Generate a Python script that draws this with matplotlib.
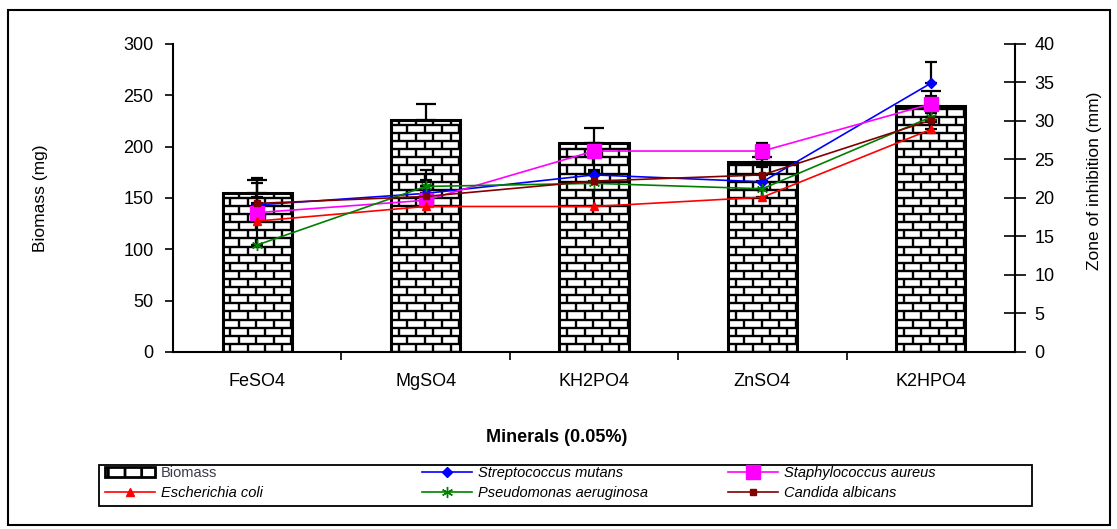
import matplotlib
matplotlib.use('Agg')
import matplotlib.pyplot as plt
import numpy as np
from matplotlib.collections import LineCollection
from matplotlib.patches import Rectangle, Patch
from matplotlib.lines import Line2D

plt.rcParams['font.family'] = ['Liberation Sans', 'DejaVu Sans']
plt.rcParams['hatch.linewidth'] = 2.0

# ---------------- data ----------------
minerals = ['FeSO4', 'MgSO4', 'KH2PO4', 'ZnSO4', 'K2HPO4']
biomass = [155, 226, 204, 185, 240]
biomass_err = [13, 16, 14, 5, 14]

s_mutans = [19.1, 20.6, 23.0, 22.1, 34.9]
s_mutans_err = [2.8, 1.0, 2.3, 3.0, 2.8]
s_aureus = [18.1, 19.7, 26.1, 26.1, 32.2]
s_aureus_err = [2.0, 1.0, 1.0, 1.0, 1.0]
e_coli = [17.0, 18.9, 18.9, 20.1, 28.9]
e_coli_err = [2.0, 1.0, 2.1, 1.0, 1.0]
p_aeruginosa = [13.9, 21.5, 21.9, 21.2, 30.5]
p_aeruginosa_err = [4.5, 2.1, 1.5, 1.0, 1.0]
c_albicans = [19.3, 20.2, 22.2, 23.0, 30.1]
c_albicans_err = [3.3, 2.1, 1.5, 1.0, 1.0]

series_names = ['Streptococcus mutans', 'Staphylococcus aureus', 'Escherichia coli',
                'Pseudomonas aeruginosa', 'Candida albicans']
series_vals = [s_mutans, s_aureus, e_coli, p_aeruginosa, c_albicans]
series_errs = [s_mutans_err, s_aureus_err, e_coli_err, p_aeruginosa_err, c_albicans_err]
series_colors = ['#0000FF', '#FF00FF', '#FF0000', '#008000', '#800000']
series_markers = ['D', 's', '^', (6, 2, 0), 's']
series_msizes = [5, 10, 6, 8, 4]

# ---------------- figure ----------------
W, H = 1117, 529
fig = plt.figure(figsize=(W / 100, H / 100), dpi=100)
ax = fig.add_axes([173 / W, 1 - 352 / H, (1015 - 173) / W, (352 - 44) / H])

x = np.arange(len(minerals))
bar_w = 0.41
bars = ax.bar(x, biomass, width=bar_w, facecolor='white', edgecolor='none', zorder=2)

# brick pattern inside each bar
row_h = 7.9
brick_w = bar_w / 4
for rect in bars:
    x0 = rect.get_x()
    bw = rect.get_width()
    top = rect.get_height()
    segs = []
    nrows = int(np.ceil(top / row_h))
    for k in range(nrows + 1):
        segs.append([(x0, k * row_h), (x0 + bw, k * row_h)])
    for k in range(nrows):
        off = (0.45 if k % 2 == 0 else 0.95) * brick_w
        for j in range(-1, 7):
            xv = x0 + off + j * brick_w
            if x0 < xv < x0 + bw:
                segs.append([(xv, k * row_h), (xv, (k + 1) * row_h)])
    lc = LineCollection(segs, colors='black', linewidths=1.7, zorder=2.5)
    ax.add_collection(lc)
    lc.set_clip_path(rect)

ax.bar(x, biomass, width=bar_w, facecolor='none', edgecolor='black', linewidth=2.2, zorder=3)
ax.errorbar(x, biomass, yerr=[np.zeros(len(x)), biomass_err], fmt='none', ecolor='black',
            elinewidth=1.6, capsize=7, capthick=1.6, zorder=4)

ax.set_xlim(-0.5, 4.5)
ax.set_ylim(0, 300)

ax2 = ax.twinx()
ax2.set_ylim(0, 40)
for vals, errs, c, m, ms in zip(series_vals, series_errs, series_colors, series_markers, series_msizes):
    ax2.errorbar(x, vals, yerr=[np.zeros(len(x)), errs], color=c, marker=m, markersize=ms,
                 linewidth=1.2, markeredgecolor=c, markerfacecolor=c, ecolor='black',
                 elinewidth=1.6, capsize=4, capthick=1.6, zorder=3)

# spines
for s in ['top', 'right']:
    ax.spines[s].set_visible(False)
for s in ['left', 'bottom']:
    ax.spines[s].set_linewidth(1.5)
for s in ['top', 'left', 'bottom']:
    ax2.spines[s].set_visible(False)
ax2.spines['right'].set_linewidth(1.5)

# ticks
ax.set_xticks([0.5, 1.5, 2.5, 3.5])
ax.set_xticklabels([])
ax.tick_params(axis='x', which='major', direction='out', length=6, width=1.2)
ax.set_xticks(x, minor=True)
ax.set_xticklabels(minerals, minor=True)
ax.tick_params(axis='x', which='minor', length=0, pad=15, labelsize=13)
ax.set_yticks(range(0, 301, 50))
ax.tick_params(axis='y', direction='out', length=6, width=1.2, labelsize=13, pad=8)
ax2.set_yticks(range(0, 41, 5))
ax2.tick_params(axis='y', direction='inout', length=16, width=1.2, labelsize=13, pad=6)

# labels
fig.text(40 / W, 1 - 198 / H, 'Biomass (mg)', rotation=90, ha='center', va='center', fontsize=12.5)
fig.text(1094 / W, 1 - 181 / H, 'Zone of inhibition (mm)', rotation=90, ha='center', va='center', fontsize=12.5)
fig.text(557 / W, 1 - 437 / H, 'Minerals (0.05%)', ha='center', va='center', fontsize=13, fontweight='bold')

# legend
biomass_handle = Patch(facecolor='white', edgecolor='black', hatch='|', linewidth=2)
line_handles = [Line2D([], [], color=c, marker=m, markersize=ms, markerfacecolor=c,
                       markeredgecolor=c, linewidth=1.2)
                for c, m, ms in zip(series_colors, series_markers, series_msizes)]
h_of = dict(zip(series_names, line_handles))

cols = [
    (105, [biomass_handle, h_of['Escherichia coli']], ['Biomass', 'Escherichia coli']),
    (422, [h_of['Streptococcus mutans'], h_of['Pseudomonas aeruginosa']],
     ['Streptococcus mutans', 'Pseudomonas aeruginosa']),
    (728, [h_of['Staphylococcus aureus'], h_of['Candida albicans']],
     ['Staphylococcus aureus', 'Candida albicans']),
]
for xpix, hs, labs in cols:
    leg = fig.legend(hs, labs, loc='upper left', bbox_to_anchor=(xpix / W, 1 - 466 / H),
                     frameon=False, borderaxespad=0, borderpad=0, handlelength=3.4,
                     handletextpad=0.45, labelspacing=0.4, numpoints=1,
                     prop={'size': 10.5, 'style': 'italic'})
    for t in leg.get_texts():
        if t.get_text() == 'Biomass':
            t.set_fontstyle('normal')
            t.set_color('#3a3a4a')

fig.patches.append(Rectangle((99 / W, 1 - 506 / H), (1032 - 99) / W, (506 - 465) / H,
                             transform=fig.transFigure, fill=False, edgecolor='black', linewidth=1.3))
fig.patches.append(Rectangle((8 / W, 1 - 525 / H), (1110 - 8) / W, (525 - 10) / H,
                             transform=fig.transFigure, fill=False, edgecolor='black', linewidth=1.5))

fig.savefig('out.png', dpi=100)
